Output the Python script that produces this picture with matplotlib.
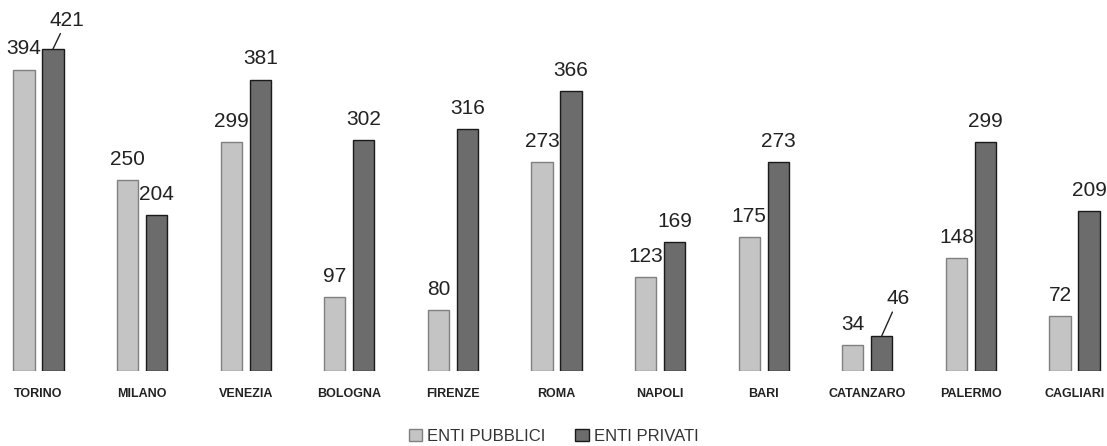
import numpy as np
from matplotlib import pyplot as plt

cities = ["TORINO", "MILANO", "VENEZIA", "BOLOGNA", "FIRENZE", "ROMA",
          "NAPOLI", "BARI", "CATANZARO", "PALERMO", "CAGLIARI"]
pubblici = [394, 250, 299, 97, 80, 273, 123, 175, 34, 148, 72]
privati = [421, 204, 381, 302, 316, 366, 169, 273, 46, 299, 209]

plt.rcParams['font.family'] = ['Liberation Sans', 'DejaVu Sans']

fig = plt.figure(figsize=(11.07, 4.46), dpi=100)
ax = fig.add_axes([0, 75/446, 1, 371/446])

x = np.arange(len(cities))
w = 0.205
off = 0.14
b1 = ax.bar(x - off, pubblici, w, color='#c4c4c4', edgecolor='#808080', linewidth=1, label='ENTI PUBBLICI')
b2 = ax.bar(x + off, privati, w, color='#6c6c6c', edgecolor='#1a1a1a', linewidth=1, label='ENTI PRIVATI')

# value labels, a couple moved aside with leader lines like the original
for i in range(len(cities)):
    ax.annotate(str(pubblici[i]), (x[i] - off, pubblici[i]), xytext=(0, 8),
                textcoords='offset points', ha='center', va='bottom', fontsize=15, color='#222222')
    if cities[i] == "TORINO":
        ax.annotate(str(privati[i]), (x[i] + off, privati[i]), xytext=(10, 14),
                    textcoords='offset points', ha='center', va='bottom', fontsize=15, color='#222222',
                    arrowprops=dict(arrowstyle='-', color='#222222', lw=1, shrinkA=1, shrinkB=0))
    elif cities[i] == "CATANZARO":
        ax.annotate(str(privati[i]), (x[i] + off, privati[i]), xytext=(12, 20),
                    textcoords='offset points', ha='center', va='bottom', fontsize=15, color='#222222',
                    arrowprops=dict(arrowstyle='-', color='#222222', lw=1, shrinkA=1, shrinkB=0))
    else:
        ax.annotate(str(privati[i]), (x[i] + off, privati[i]), xytext=(0, 8),
                    textcoords='offset points', ha='center', va='bottom', fontsize=15, color='#222222')

ax.set_xlim(-0.3716, 10.314)
ax.set_ylim(0, 485)
ax.set_xticks(x)
ax.set_xticklabels(cities, fontsize=9, fontweight='bold', color='#222222')
ax.tick_params(axis='x', length=0, pad=12)
ax.set_yticks([])
for s in ax.spines.values():
    s.set_visible(False)

fig.legend(handles=[b1, b2], loc='center', bbox_to_anchor=(0.5, 0.022), ncol=2, frameon=False,
           fontsize=12, handlelength=0.8, handleheight=0.8, handletextpad=0.3, columnspacing=1.8,
           labelcolor='#333333')

plt.savefig('out.png', dpi=100)
